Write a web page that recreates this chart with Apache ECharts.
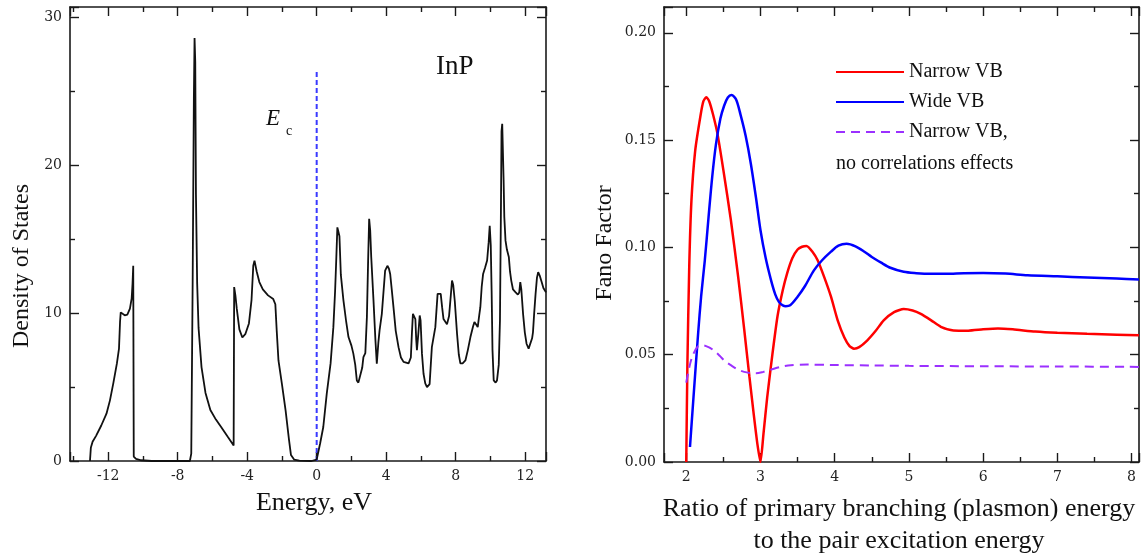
<!DOCTYPE html>
<html><head><meta charset="utf-8">
<script src="https://cdn.jsdelivr.net/npm/echarts@6/dist/echarts.min.js"></script>
<style>html,body{margin:0;padding:0;background:#fff}#c{width:1143px;height:559px}</style>
</head><body><div id="c"></div>
<script>
// ---- Left panel: InP density of states ----
const dosEnergy = [-13.05,-13.0,-12.9,-12.7,-12.4,-12.1,-11.9,-11.7,-11.5,-11.38,-11.32,-11.28,-11.18,-11.05,-10.9,-10.75,-10.65,-10.6,-10.56,-10.53,-10.4,-10.1,-9.5,-7.3,
-7.22,-7.14,-7.07,-7.03,-6.99,-6.95,-6.88,-6.8,-6.63,-6.4,-6.12,-5.8,-5.5,-5.1,-4.78,-4.75,-4.68,-4.6,-4.45,-4.28,-4.1,-3.9,-3.75,-3.65,-3.58,-3.45,-3.3,-3.1,-2.8,-2.5,-2.38,-2.3,-2.2,-2.0,-1.79,-1.6,-1.48,-1.3,-1.0,-0.3,
0.0,0.2,0.38,0.58,0.8,0.96,1.06,1.12,1.19,1.25,1.31,1.39,1.54,1.7,1.83,2.0,2.11,2.22,2.31,2.4,2.5,2.62,2.69,2.8,2.89,2.96,3.02,3.08,3.14,3.27,3.38,3.46,3.55,3.62,3.75,3.85,3.94,4.07,4.16,4.23,4.32,4.42,4.55,4.71,4.85,5.0,5.29,5.42,5.48,5.54,5.62,5.68,5.73,5.77,5.85,5.93,5.98,6.06,6.15,6.25,6.35,6.5,6.63,6.83,6.96,7.05,7.14,7.22,7.3,7.5,7.62,7.72,7.79,7.86,7.95,8.08,8.18,8.27,8.4,8.56,8.7,8.85,9.0,9.08,9.2,9.27,9.35,9.42,9.5,9.58,9.7,9.81,9.9,9.96,10.02,10.07,10.12,10.19,10.3,10.38,10.48,10.55,10.61,10.64,10.68,10.73,10.76,10.8,10.87,10.95,11.06,11.13,11.2,11.3,11.44,11.58,11.66,11.72,11.78,11.88,11.98,12.08,12.2,12.3,12.4,12.45,12.52,12.6,12.68,12.75,12.85,12.95,13.05,13.2];
const dosValue = [0,0.9,1.3,1.7,2.4,3.2,4.1,5.3,6.6,7.6,9.4,10.05,10.1,9.85,9.9,10.3,11.0,12.0,13.2,0.3,0.15,0.05,0,0,
0.5,12,24.5,28.6,27,18,12,9,6.35,4.6,3.45,2.8,2.3,1.6,1.05,11.76,11.2,10.3,8.9,8.35,8.6,9.3,10.9,13.2,13.55,12.8,12.1,11.6,11.2,10.95,10.6,8.8,6.8,5.2,3.43,1.5,0.4,0.1,0.02,0,
0.1,1.2,2.3,4.55,6.6,9.05,11.5,13.4,15.8,15.5,15.2,12.6,10.86,9.4,8.38,7.8,7.26,6.5,5.45,5.3,5.34,6.3,7.03,7.3,9.73,13.5,16.38,15.6,13.8,10.86,8.2,6.58,8.0,8.83,9.95,11.5,12.88,13.2,13.0,12.65,11.6,10.4,8.8,7.7,7.0,6.7,6.6,7.0,8.6,9.95,9.9,9.6,8.2,7.5,8.6,9.84,9.5,7.26,5.9,5.25,5.0,5.2,7.7,9.05,11.3,11.4,11.3,10.4,9.6,9.24,9.8,11.2,12.2,11.9,10.8,8.6,7.2,6.6,6.6,6.8,7.5,8.38,9.1,9.39,9.2,9.05,9.8,10.4,11.8,12.65,13.1,13.56,14.8,15.9,14.6,11.5,7.5,5.45,5.3,5.45,6.5,9.5,17.6,22.3,22.8,22.9,19,16.5,14.9,14.3,13.8,12.8,12.2,11.6,11.42,11.25,11.4,12.1,11.6,9.95,8.7,7.93,7.6,7.7,8.3,8.7,10.0,11.3,12.4,12.77,12.5,12.1,11.7,11.4];
const ecEnergy = [0, 0];
const ecDos = [0, 26.5];

// ---- Right panel: Fano factor ----
const narrowX = [2.0,2.015,2.04,2.07,2.12,2.19,2.23,2.27,2.31,2.36,2.42,2.5,2.6,2.7,2.78,2.85,2.91,2.96,3.0,3.04,3.09,3.16,3.23,3.3,3.36,3.43,3.5,3.56,3.62,3.7,3.77,3.86,3.95,4.04,4.13,4.2,4.26,4.33,4.44,4.55,4.66,4.8,4.93,5.05,5.16,5.3,5.43,5.6,5.8,6.0,6.2,6.4,6.7,7.0,7.4,7.8,8.1];
const narrowY = [0,0.045,0.091,0.122,0.145,0.161,0.168,0.170,0.168,0.162,0.153,0.136,0.113,0.086,0.062,0.040,0.022,0.008,0.0,0.013,0.030,0.050,0.068,0.080,0.088,0.095,0.099,0.1003,0.1007,0.098,0.094,0.086,0.077,0.066,0.058,0.054,0.0528,0.0535,0.0567,0.061,0.066,0.0698,0.0713,0.0706,0.069,0.066,0.063,0.0613,0.0612,0.0618,0.0622,0.0618,0.0608,0.0602,0.0597,0.0593,0.059];
const wideX = [2.05,2.095,2.16,2.2,2.25,2.3,2.35,2.4,2.46,2.51,2.56,2.61,2.67,2.73,2.8,2.87,2.94,3.0,3.07,3.14,3.2,3.25,3.3,3.34,3.4,3.5,3.6,3.72,3.83,3.95,4.05,4.16,4.28,4.4,4.5,4.62,4.75,4.93,5.1,5.29,5.5,5.74,6.0,6.3,6.6,7.0,7.4,7.8,8.1];
const wideY = [0.007,0.029,0.060,0.077,0.094,0.114,0.133,0.148,0.160,0.166,0.1698,0.171,0.169,0.162,0.152,0.139,0.123,0.108,0.095,0.085,0.078,0.0745,0.073,0.0726,0.073,0.077,0.082,0.0893,0.094,0.098,0.1008,0.1017,0.1005,0.098,0.0955,0.093,0.0905,0.0886,0.088,0.0877,0.0877,0.088,0.0881,0.0878,0.087,0.0865,0.086,0.0855,0.085];
const noCorrX = [2.0,2.04,2.08,2.15,2.22,2.3,2.37,2.45,2.52,2.6,2.7,2.78,2.86,2.94,3.04,3.14,3.27,3.41,3.63,3.95,4.5,5.0,6.0,7.0,8.1];
const noCorrY = [0.037,0.044,0.049,0.0536,0.0544,0.0535,0.052,0.0495,0.047,0.0451,0.043,0.042,0.0415,0.0413,0.042,0.043,0.0443,0.0451,0.0454,0.0452,0.045,0.0448,0.0446,0.0445,0.0443];

const seriesNames = ['Narrow VB', 'Wide VB', 'Narrow VB,'];
const legendExtraLine = 'no correlations effects';

const zip = (a, b) => a.map((v, i) => [v, b[i]]);

const TICK_FONT = 'DejaVu Serif';
const SERIF = 'Liberation Serif';
const ink = '#1a1a1a';

function axisBase(extra) {
  return Object.assign({
    type: 'value',
    axisLine: { show: true, onZero: false, lineStyle: { color: ink, width: 1.6 } },
    axisTick: { show: true, inside: true, length: 9, lineStyle: { color: ink, width: 1.4 } },
    minorTick: { show: true, splitNumber: 2, length: 5, lineStyle: { color: ink, width: 1.4 } },
    splitLine: { show: false },
    minorSplitLine: { show: false },
    axisLabel: { show: true, color: '#222', fontFamily: TICK_FONT, fontSize: 14, margin: 8, showMinLabel: false, showMaxLabel: false }
  }, extra);
}
function mirror(a) {
  const m = JSON.parse(JSON.stringify(a));
  m.axisLabel = { show: false };
  return m;
}

const lx = axisBase({ gridIndex: 0, min: -14.2, max: 13.2, minInterval: 4, maxInterval: 4, position: 'bottom' });
const ly = axisBase({ gridIndex: 0, min: 0, max: 30.7, interval: 10, position: 'left' });
ly.axisLabel.showMinLabel = true;
const rx = axisBase({ gridIndex: 1, min: 1.7, max: 8.1, minInterval: 1, maxInterval: 1, position: 'bottom' });
const ry = axisBase({ gridIndex: 1, min: 0, max: 0.212, interval: 0.05, position: 'left' });
ry.axisLabel.showMinLabel = true;
ry.axisLabel.formatter = v => v.toFixed(2);

const lxTop = mirror(lx); lxTop.position = 'top';
const lyRight = mirror(ly); lyRight.position = 'right';
const rxTop = mirror(rx); rxTop.position = 'top';
const ryRight = mirror(ry); ryRight.position = 'right';

const chart = echarts.init(document.getElementById('c'), null, { renderer: 'canvas' });
chart.setOption({
  animation: false,
  backgroundColor: '#fff',
  grid: [
    { left: 70, top: 7, width: 476, height: 454, containLabel: false, outerBoundsMode: 'none' },
    { left: 664, top: 7, width: 475, height: 455, containLabel: false, outerBoundsMode: 'none' }
  ],
  xAxis: [lx, lxTop, rx, rxTop],
  yAxis: [ly, lyRight, ry, ryRight],
  legend: {
    data: seriesNames,
    orient: 'vertical',
    left: 835, top: 62, padding: 0,
    itemWidth: 68, itemHeight: 20, itemGap: 10,
    itemStyle: { opacity: 0 },
    textStyle: { fontFamily: SERIF, fontSize: 20, color: '#111' },
    selectedMode: false
  },
  series: [
    { type: 'line', name: 'DOS', xAxisIndex: 0, yAxisIndex: 0, data: zip(dosEnergy, dosValue), showSymbol: false, symbol: 'none',
      lineStyle: { color: '#111', width: 1.8 }, z: 3 },
    { type: 'line', name: 'Ec', xAxisIndex: 0, yAxisIndex: 0, data: zip(ecEnergy, ecDos), symbol: 'none',
      lineStyle: { color: '#3a3aff', width: 2, type: [5, 3] }, z: 2 },
    { type: 'line', name: seriesNames[0], xAxisIndex: 2, yAxisIndex: 2, data: zip(narrowX, narrowY), symbol: 'none', smooth: 0.2,
      itemStyle: { color: '#ff0000' }, lineStyle: { color: '#ff0000', width: 2.5 } },
    { type: 'line', name: seriesNames[1], xAxisIndex: 2, yAxisIndex: 2, data: zip(wideX, wideY), symbol: 'none', smooth: 0.3,
      itemStyle: { color: '#0000ff' }, lineStyle: { color: '#0000ff', width: 2.5 } },
    { type: 'line', name: seriesNames[2], xAxisIndex: 2, yAxisIndex: 2, data: zip(noCorrX, noCorrY), symbol: 'none', smooth: 0.3,
      itemStyle: { color: '#9b30ff' }, lineStyle: { color: '#9b30ff', width: 2, type: [9, 6] } }
  ],
  graphic: [
    { type: 'text', x: 22, y: 266, rotation: Math.PI / 2, style: { text: 'Density of States', font: '24px "Liberation Serif"', fill: '#111', textAlign: 'center', textVerticalAlign: 'middle' } },
    { type: 'text', x: 314, y: 503, style: { text: 'Energy, eV', font: '26px "Liberation Serif"', fill: '#111', textAlign: 'center', textVerticalAlign: 'middle' } },
    { type: 'text', x: 436, y: 67, style: { text: 'InP', font: '27px "Liberation Serif"', fill: '#111', textAlign: 'left', textVerticalAlign: 'middle' } },
    { type: 'text', x: 266, y: 119, style: { text: 'E', font: 'italic 23px "Liberation Serif"', fill: '#111', textAlign: 'left', textVerticalAlign: 'middle' } },
    { type: 'text', x: 286, y: 131, style: { text: 'c', font: '14px "Liberation Serif"', fill: '#111', textAlign: 'left', textVerticalAlign: 'middle' } },
    { type: 'text', x: 605, y: 243, rotation: Math.PI / 2, style: { text: 'Fano Factor', font: '24px "Liberation Serif"', fill: '#111', textAlign: 'center', textVerticalAlign: 'middle' } },
    { type: 'text', x: 899, y: 509, style: { text: 'Ratio of primary branching (plasmon) energy', font: '26px "Liberation Serif"', fill: '#111', textAlign: 'center', textVerticalAlign: 'middle' } },
    { type: 'text', x: 899, y: 541, style: { text: 'to the pair excitation energy', font: '26px "Liberation Serif"', fill: '#111', textAlign: 'center', textVerticalAlign: 'middle' } },
    { type: 'text', x: 836, y: 164, style: { text: legendExtraLine, font: '20px "Liberation Serif"', fill: '#111', textAlign: 'left', textVerticalAlign: 'middle' } }
  ]
});
</script>
</body></html>
